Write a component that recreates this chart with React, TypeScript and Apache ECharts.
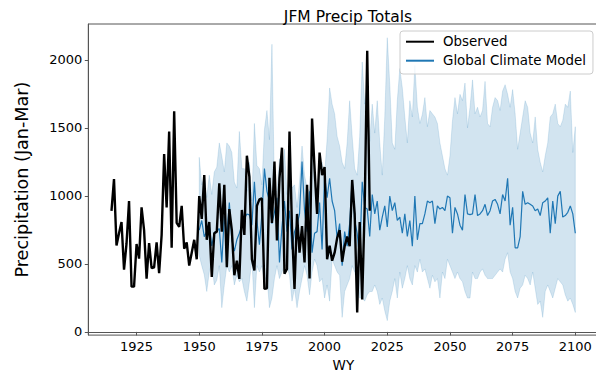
import React, { useEffect, useRef } from "react";
import * as echarts from "echarts";

const OBS_START = 1915;
const observed = [
  890, 1124, 635, 725, 808, 457, 650, 962, 333, 333,
  646, 539, 915, 748, 392, 653, 468, 475, 658, 432,
  713, 1307, 915, 1473, 618, 1622, 801, 772, 926, 611,
  658, 487, 582, 677, 534, 998, 831, 1152, 677, 808,
  404, 725, 737, 1093, 737, 1081, 475, 903, 748, 416,
  523, 390, 896, 713, 1295, 1140, 534, 452, 926, 974,
  981, 316, 321, 1133, 801, 1252, 672, 1128, 1354, 428,
  463, 1473, 760, 316, 867, 582, 777, 511, 1081, 392,
  1568, 1200, 867, 1318, 1152, 1211, 534, 634, 523, 582,
  689, 748, 516, 630, 701, 630, 1117, 867, 143, 808,
  238, 930, 2066, 890,
];

const GCM_START = 1950;
const gcmMean = [
  748, 819, 700, 740, 780, 632, 730, 740, 760, 511,
  850, 700, 950, 677, 594, 677, 725, 784, 831, 867,
  860, 784, 1104, 819, 641, 867, 1200, 1033, 962, 796,
  879, 986, 511, 772, 962, 737, 891, 606, 737, 784,
  867, 1252, 891, 737, 1033, 582, 725, 737, 950, 606,
  1152, 986, 1129, 962, 891, 689, 796, 487, 737, 630,
  796, 1117, 819, 725, 534, 1104, 915, 903, 701, 1010,
  867, 962, 748, 844, 926, 772, 998, 891, 950, 819,
  844, 725, 867, 701, 819, 630, 998, 677, 796, 796,
  867, 962, 950, 962, 796, 926, 903, 915, 891, 998,
  986, 725, 915, 867, 784, 748, 1010, 867, 862, 867,
  1010, 855, 867, 891, 938, 855, 891, 962, 974, 938,
  867, 1010, 962, 1129, 784, 915, 618, 618, 701, 1033,
  938, 950, 938, 926, 891, 903, 855, 950, 962, 986,
  725, 962, 796, 998, 1033, 844, 855, 879, 926, 867,
  725,
];
const gcmUpper = [
  1283, 1081, 1140, 988, 1152, 1010, 1176, 1211, 1389, 1290,
  1176, 1389, 1366, 1318, 1100, 1057, 1473, 1200, 1200, 1033,
  1247, 962, 1532, 1223, 1200, 1081, 1485, 1627, 1413, 2114,
  1033, 1033, 1271, 1104, 1342, 1010, 1129, 1057, 1081, 915,
  1104, 1366, 1152, 1057, 1033, 1318, 1081, 1010, 1200, 1247,
  1152, 1414, 1793, 1674, 1603, 1437, 1366, 1247, 1200, 1389,
  1699, 1437, 1200, 1152, 1437, 1984, 1674, 1841, 1400, 1674,
  1461, 1699, 1389, 1152, 1580, 2162, 1817, 1389, 1342, 1699,
  1936, 1793, 1580, 1389, 1699, 1580, 1959, 1651, 1532, 1600,
  1722, 1508, 1627, 1603, 1580, 1532, 1389, 1295, 1200, 1152,
  1295, 1550, 1722, 1603, 1746, 1700, 1829, 1500, 1651, 1852,
  1603, 1651, 1580, 1627, 1841, 1532, 1508, 1651, 1722, 1700,
  1627, 1770, 1817, 1746, 1651, 1781, 1603, 1342, 1461, 1580,
  1699, 1651, 1461, 1389, 1580, 1342, 1247, 1176, 1295, 1389,
  1580, 1603, 1674, 1532, 1508, 1556, 1674, 1651, 1770, 1318,
  1508,
];
const gcmLower = [
  560, 487, 420, 297, 440, 511, 345, 380, 487, 178,
  345, 487, 440, 487, 345, 416, 368, 392, 297, 226,
  368, 534, 178, 487, 440, 487, 368, 416, 178, 249,
  392, 487, 392, 440, 487, 487, 416, 226, 321, 178,
  297, 392, 487, 416, 273, 440, 534, 487, 368, 392,
  249, 345, 226, 534, 487, 440, 416, 107, 297, 345,
  392, 487, 440, 368, 249, 249, 226, 273, 297, 297,
  345, 297, 202, 249, 155, 83, 226, 297, 392, 249,
  440, 321, 392, 487, 392, 345, 487, 440, 534, 440,
  463, 392, 321, 416, 368, 392, 249, 440, 392, 534,
  487, 440, 392, 440, 392, 368, 297, 249, 249, 440,
  392, 392, 440, 463, 416, 392, 392, 392, 416, 440,
  463, 440, 534, 582, 440, 392, 297, 249, 321, 345,
  416, 392, 345, 440, 321, 202, 226, 107, 297, 345,
  297, 249, 321, 392, 368, 345, 273, 226, 249, 202,
  143,
];

const xTicks = [1925, 1950, 1975, 2000, 2025, 2050, 2075, 2100];
const yTicks = [0, 500, 1000, 1500, 2000];

const FONT = "DejaVu Sans";

export default function App() {
  const ref = useRef<HTMLDivElement>(null);

  useEffect(() => {
    if (!ref.current) return;
    const chart = echarts.init(ref.current, null, { renderer: "svg" });

    const obsData = observed.map((v, i) => [OBS_START + i, v]);
    const meanData = gcmMean.map((v, i) => [GCM_START + i, v]);
    const bandData = gcmUpper.map((v, i) => [GCM_START + i, gcmLower[i], v]);

    const bandColor = "rgba(31,119,180,0.2)";

    const renderBand = (params: any, api: any) => {
      if (params.dataIndex !== 0) return null;
      const upperPts = gcmUpper.map((v, i) => api.coord([GCM_START + i, v]));
      const lowerPts = gcmLower.map((v, i) => api.coord([GCM_START + i, v]));
      const poly = upperPts.concat(lowerPts.slice().reverse());
      return {
        type: "group",
        children: [
          { type: "polygon", shape: { points: poly }, style: { fill: bandColor, stroke: bandColor, lineWidth: 0.8 } },
        ],
      };
    };

    chart.setOption({
      animation: false,
      title: {
        text: "JFM Precip Totals",
        left: 343,
        top: 4,
        textAlign: "center",
        textStyle: { fontFamily: FONT, fontSize: 15.5, fontWeight: "normal", color: "#000" },
      },
      legend: {
        left: 400,
        top: 31,
        orient: "vertical",
        itemWidth: 28,
        itemHeight: 14,
        itemGap: 5,
        padding: [3.7, 7, 6.3, 5],
        borderColor: "#cccccc",
        borderWidth: 1,
        borderRadius: 3,
        backgroundColor: "rgba(255,255,255,0.8)",
        itemStyle: { opacity: 0 },
        data: ["Observed", "Global Climate Model"],
        textStyle: {
          fontFamily: FONT,
          fontSize: 13.4,
          color: "#000",
          lineHeight: 14,
          padding: [0, 0, 0, 4],
        },
      },
      grid: { left: 88.3, right: 0.5, top: 24, bottom: 32, show: true, borderColor: "#555", borderWidth: 1 },
      xAxis: {
        type: "value",
        min: 1905.75,
        max: 2109.25,
        name: "WY",
        nameLocation: "middle",
        nameGap: 19,
        nameTextStyle: { fontFamily: FONT, fontSize: 13.5, color: "#000" },
        axisLine: { show: true, lineStyle: { color: "#555", width: 1 } },
        axisTick: { show: true, length: 3.5, customValues: xTicks, lineStyle: { color: "#555" } },
        axisLabel: {
          customValues: xTicks,
          fontFamily: FONT,
          fontSize: 13,
          color: "#000",
          margin: 5,
          formatter: (v: number) => String(v),
        },
        splitLine: { show: false },
      },
      yAxis: {
        type: "value",
        min: -23.5,
        max: 2263,
        name: "Precipitation (Jan-Mar)",
        nameLocation: "middle",
        nameRotate: 90,
        nameGap: 57,
        nameTextStyle: { fontFamily: FONT, fontSize: 17.6, color: "#000" },
        axisLine: { show: true, lineStyle: { color: "#555", width: 1 } },
        axisTick: { show: true, length: 3.5, customValues: yTicks, lineStyle: { color: "#555" } },
        axisLabel: {
          customValues: yTicks,
          fontFamily: FONT,
          fontSize: 13,
          color: "#000",
          margin: 6,
          formatter: (v: number) => String(v),
        },
        splitLine: { show: false },
      },
      series: [
        {
          name: "band",
          type: "custom",
          data: bandData,
          encode: { x: 0, y: [1, 2] },
          renderItem: renderBand,
          silent: true,
          z: 1,
        },
        {
          name: "Global Climate Model",
          type: "line",
          data: meanData,
          symbol: "none",
          itemStyle: { color: "#1f77b4" },
          lineStyle: { color: "#1f77b4", width: 1.2 },
          z: 2,
        },
        {
          name: "Observed",
          type: "line",
          data: obsData,
          symbol: "none",
          itemStyle: { color: "#000" },
          lineStyle: { color: "#000", width: 2.4 },
          z: 3,
        },
      ],
    });

    return () => chart.dispose();
  }, []);

  return (
    <div style={{ position: "absolute", left: 0, top: 0, width: 596, height: 377, overflow: "hidden", background: "#fff" }}>
      <div ref={ref} style={{ width: 599, height: 377 }} />
    </div>
  );
}
